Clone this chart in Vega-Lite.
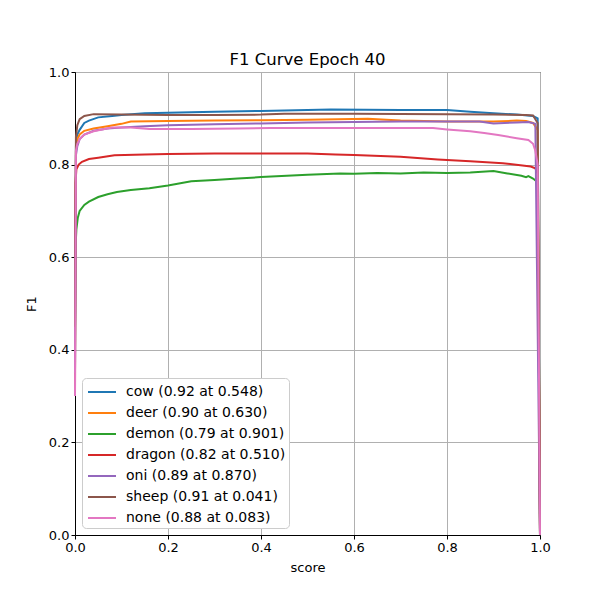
{
  "$schema": "https://vega.github.io/schema/vega-lite/v6.json",
  "width": 465,
  "height": 463,
  "autosize": {"type": "none"},
  "padding": {"left": 75, "top": 72, "right": 60, "bottom": 65},
  "title": {"text": "F1 Curve Epoch 40", "font": "DejaVu Sans", "fontSize": 16.5, "fontWeight": "normal", "color": "#000000", "offset": -2},
  "config": {
    "font": "DejaVu Sans",
    "view": {"stroke": "#000000", "strokeWidth": 1},
    "axis": {"labelFont": "DejaVu Sans", "labelFontSize": 13, "labelColor": "#000000", "titleFont": "DejaVu Sans", "titleFontSize": 13, "titleFontWeight": "normal", "titleColor": "#000000", "domainColor": "#000000", "tickColor": "#000000", "tickSize": 4, "gridColor": "#b0b0b0", "gridWidth": 1, "gridOpacity": 1}
  },
  "data": {"values": [
    {"s":"cow (0.92 at 0.548)","x":0,"y":0.45},{"s":"cow (0.92 at 0.548)","x":0.002,"y":0.84},{"s":"cow (0.92 at 0.548)","x":0.005,"y":0.865},{"s":"cow (0.92 at 0.548)","x":0.01,"y":0.875},{"s":"cow (0.92 at 0.548)","x":0.02,"y":0.89},{"s":"cow (0.92 at 0.548)","x":0.03,"y":0.895},{"s":"cow (0.92 at 0.548)","x":0.05,"y":0.902},{"s":"cow (0.92 at 0.548)","x":0.08,"y":0.905},{"s":"cow (0.92 at 0.548)","x":0.1,"y":0.907},{"s":"cow (0.92 at 0.548)","x":0.15,"y":0.911},{"s":"cow (0.92 at 0.548)","x":0.2,"y":0.912},{"s":"cow (0.92 at 0.548)","x":0.3,"y":0.914},{"s":"cow (0.92 at 0.548)","x":0.4,"y":0.916},{"s":"cow (0.92 at 0.548)","x":0.5,"y":0.918},{"s":"cow (0.92 at 0.548)","x":0.55,"y":0.919},{"s":"cow (0.92 at 0.548)","x":0.7,"y":0.918},{"s":"cow (0.92 at 0.548)","x":0.8,"y":0.918},{"s":"cow (0.92 at 0.548)","x":0.85,"y":0.914},{"s":"cow (0.92 at 0.548)","x":0.9,"y":0.911},{"s":"cow (0.92 at 0.548)","x":0.95,"y":0.908},{"s":"cow (0.92 at 0.548)","x":0.985,"y":0.905},{"s":"cow (0.92 at 0.548)","x":0.995,"y":0.9},{"s":"cow (0.92 at 0.548)","x":1.0,"y":0},
    {"s":"deer (0.90 at 0.630)","x":0,"y":0.4},{"s":"deer (0.90 at 0.630)","x":0.002,"y":0.83},{"s":"deer (0.90 at 0.630)","x":0.005,"y":0.855},{"s":"deer (0.90 at 0.630)","x":0.01,"y":0.865},{"s":"deer (0.90 at 0.630)","x":0.02,"y":0.873},{"s":"deer (0.90 at 0.630)","x":0.04,"y":0.878},{"s":"deer (0.90 at 0.630)","x":0.07,"y":0.883},{"s":"deer (0.90 at 0.630)","x":0.1,"y":0.888},{"s":"deer (0.90 at 0.630)","x":0.12,"y":0.893},{"s":"deer (0.90 at 0.630)","x":0.2,"y":0.894},{"s":"deer (0.90 at 0.630)","x":0.3,"y":0.895},{"s":"deer (0.90 at 0.630)","x":0.4,"y":0.896},{"s":"deer (0.90 at 0.630)","x":0.5,"y":0.897},{"s":"deer (0.90 at 0.630)","x":0.63,"y":0.899},{"s":"deer (0.90 at 0.630)","x":0.7,"y":0.895},{"s":"deer (0.90 at 0.630)","x":0.8,"y":0.893},{"s":"deer (0.90 at 0.630)","x":0.9,"y":0.893},{"s":"deer (0.90 at 0.630)","x":0.95,"y":0.895},{"s":"deer (0.90 at 0.630)","x":0.97,"y":0.894},{"s":"deer (0.90 at 0.630)","x":0.985,"y":0.89},{"s":"deer (0.90 at 0.630)","x":0.995,"y":0.875},{"s":"deer (0.90 at 0.630)","x":1.0,"y":0},
    {"s":"demon (0.79 at 0.901)","x":0,"y":0.35},{"s":"demon (0.79 at 0.901)","x":0.001,"y":0.62},{"s":"demon (0.79 at 0.901)","x":0.003,"y":0.66},{"s":"demon (0.79 at 0.901)","x":0.006,"y":0.685},{"s":"demon (0.79 at 0.901)","x":0.01,"y":0.7},{"s":"demon (0.79 at 0.901)","x":0.02,"y":0.713},{"s":"demon (0.79 at 0.901)","x":0.03,"y":0.72},{"s":"demon (0.79 at 0.901)","x":0.05,"y":0.73},{"s":"demon (0.79 at 0.901)","x":0.07,"y":0.736},{"s":"demon (0.79 at 0.901)","x":0.09,"y":0.741},{"s":"demon (0.79 at 0.901)","x":0.12,"y":0.745},{"s":"demon (0.79 at 0.901)","x":0.16,"y":0.749},{"s":"demon (0.79 at 0.901)","x":0.2,"y":0.755},{"s":"demon (0.79 at 0.901)","x":0.25,"y":0.764},{"s":"demon (0.79 at 0.901)","x":0.3,"y":0.767},{"s":"demon (0.79 at 0.901)","x":0.35,"y":0.77},{"s":"demon (0.79 at 0.901)","x":0.4,"y":0.773},{"s":"demon (0.79 at 0.901)","x":0.5,"y":0.778},{"s":"demon (0.79 at 0.901)","x":0.57,"y":0.781},{"s":"demon (0.79 at 0.901)","x":0.6,"y":0.78},{"s":"demon (0.79 at 0.901)","x":0.65,"y":0.782},{"s":"demon (0.79 at 0.901)","x":0.7,"y":0.781},{"s":"demon (0.79 at 0.901)","x":0.75,"y":0.783},{"s":"demon (0.79 at 0.901)","x":0.8,"y":0.782},{"s":"demon (0.79 at 0.901)","x":0.85,"y":0.783},{"s":"demon (0.79 at 0.901)","x":0.9,"y":0.786},{"s":"demon (0.79 at 0.901)","x":0.93,"y":0.781},{"s":"demon (0.79 at 0.901)","x":0.96,"y":0.776},{"s":"demon (0.79 at 0.901)","x":0.97,"y":0.773},{"s":"demon (0.79 at 0.901)","x":0.975,"y":0.775},{"s":"demon (0.79 at 0.901)","x":0.985,"y":0.77},{"s":"demon (0.79 at 0.901)","x":0.995,"y":0.762},{"s":"demon (0.79 at 0.901)","x":1.0,"y":0},
    {"s":"dragon (0.82 at 0.510)","x":0,"y":0.3},{"s":"dragon (0.82 at 0.510)","x":0.001,"y":0.76},{"s":"dragon (0.82 at 0.510)","x":0.003,"y":0.79},{"s":"dragon (0.82 at 0.510)","x":0.008,"y":0.8},{"s":"dragon (0.82 at 0.510)","x":0.015,"y":0.806},{"s":"dragon (0.82 at 0.510)","x":0.03,"y":0.812},{"s":"dragon (0.82 at 0.510)","x":0.05,"y":0.815},{"s":"dragon (0.82 at 0.510)","x":0.085,"y":0.82},{"s":"dragon (0.82 at 0.510)","x":0.15,"y":0.822},{"s":"dragon (0.82 at 0.510)","x":0.2,"y":0.823},{"s":"dragon (0.82 at 0.510)","x":0.3,"y":0.824},{"s":"dragon (0.82 at 0.510)","x":0.4,"y":0.824},{"s":"dragon (0.82 at 0.510)","x":0.5,"y":0.824},{"s":"dragon (0.82 at 0.510)","x":0.56,"y":0.822},{"s":"dragon (0.82 at 0.510)","x":0.6,"y":0.821},{"s":"dragon (0.82 at 0.510)","x":0.7,"y":0.817},{"s":"dragon (0.82 at 0.510)","x":0.78,"y":0.811},{"s":"dragon (0.82 at 0.510)","x":0.85,"y":0.807},{"s":"dragon (0.82 at 0.510)","x":0.92,"y":0.803},{"s":"dragon (0.82 at 0.510)","x":0.98,"y":0.796},{"s":"dragon (0.82 at 0.510)","x":0.99,"y":0.792},{"s":"dragon (0.82 at 0.510)","x":0.995,"y":0.78},{"s":"dragon (0.82 at 0.510)","x":1.0,"y":0},
    {"s":"oni (0.89 at 0.870)","x":0,"y":0.35},{"s":"oni (0.89 at 0.870)","x":0.002,"y":0.82},{"s":"oni (0.89 at 0.870)","x":0.005,"y":0.84},{"s":"oni (0.89 at 0.870)","x":0.01,"y":0.855},{"s":"oni (0.89 at 0.870)","x":0.02,"y":0.865},{"s":"oni (0.89 at 0.870)","x":0.04,"y":0.873},{"s":"oni (0.89 at 0.870)","x":0.07,"y":0.878},{"s":"oni (0.89 at 0.870)","x":0.1,"y":0.88},{"s":"oni (0.89 at 0.870)","x":0.15,"y":0.883},{"s":"oni (0.89 at 0.870)","x":0.2,"y":0.885},{"s":"oni (0.89 at 0.870)","x":0.3,"y":0.887},{"s":"oni (0.89 at 0.870)","x":0.4,"y":0.889},{"s":"oni (0.89 at 0.870)","x":0.5,"y":0.891},{"s":"oni (0.89 at 0.870)","x":0.6,"y":0.892},{"s":"oni (0.89 at 0.870)","x":0.7,"y":0.893},{"s":"oni (0.89 at 0.870)","x":0.8,"y":0.893},{"s":"oni (0.89 at 0.870)","x":0.87,"y":0.893},{"s":"oni (0.89 at 0.870)","x":0.9,"y":0.889},{"s":"oni (0.89 at 0.870)","x":0.95,"y":0.891},{"s":"oni (0.89 at 0.870)","x":0.975,"y":0.892},{"s":"oni (0.89 at 0.870)","x":0.99,"y":0.888},{"s":"oni (0.89 at 0.870)","x":1.0,"y":0},
    {"s":"sheep (0.91 at 0.041)","x":0,"y":0.45},{"s":"sheep (0.91 at 0.041)","x":0.002,"y":0.86},{"s":"sheep (0.91 at 0.041)","x":0.005,"y":0.885},{"s":"sheep (0.91 at 0.041)","x":0.01,"y":0.898},{"s":"sheep (0.91 at 0.041)","x":0.02,"y":0.905},{"s":"sheep (0.91 at 0.041)","x":0.04,"y":0.909},{"s":"sheep (0.91 at 0.041)","x":0.1,"y":0.908},{"s":"sheep (0.91 at 0.041)","x":0.2,"y":0.907},{"s":"sheep (0.91 at 0.041)","x":0.3,"y":0.907},{"s":"sheep (0.91 at 0.041)","x":0.4,"y":0.908},{"s":"sheep (0.91 at 0.041)","x":0.45,"y":0.91},{"s":"sheep (0.91 at 0.041)","x":0.6,"y":0.91},{"s":"sheep (0.91 at 0.041)","x":0.8,"y":0.909},{"s":"sheep (0.91 at 0.041)","x":0.9,"y":0.908},{"s":"sheep (0.91 at 0.041)","x":0.97,"y":0.907},{"s":"sheep (0.91 at 0.041)","x":0.985,"y":0.906},{"s":"sheep (0.91 at 0.041)","x":0.995,"y":0.89},{"s":"sheep (0.91 at 0.041)","x":1.0,"y":0},
    {"s":"none (0.88 at 0.083)","x":0,"y":0.3},{"s":"none (0.88 at 0.083)","x":0.002,"y":0.83},{"s":"none (0.88 at 0.083)","x":0.005,"y":0.845},{"s":"none (0.88 at 0.083)","x":0.01,"y":0.855},{"s":"none (0.88 at 0.083)","x":0.02,"y":0.865},{"s":"none (0.88 at 0.083)","x":0.04,"y":0.872},{"s":"none (0.88 at 0.083)","x":0.08,"y":0.88},{"s":"none (0.88 at 0.083)","x":0.12,"y":0.88},{"s":"none (0.88 at 0.083)","x":0.16,"y":0.877},{"s":"none (0.88 at 0.083)","x":0.25,"y":0.877},{"s":"none (0.88 at 0.083)","x":0.35,"y":0.878},{"s":"none (0.88 at 0.083)","x":0.42,"y":0.879},{"s":"none (0.88 at 0.083)","x":0.6,"y":0.879},{"s":"none (0.88 at 0.083)","x":0.77,"y":0.879},{"s":"none (0.88 at 0.083)","x":0.8,"y":0.876},{"s":"none (0.88 at 0.083)","x":0.85,"y":0.872},{"s":"none (0.88 at 0.083)","x":0.88,"y":0.868},{"s":"none (0.88 at 0.083)","x":0.91,"y":0.864},{"s":"none (0.88 at 0.083)","x":0.95,"y":0.857},{"s":"none (0.88 at 0.083)","x":0.975,"y":0.853},{"s":"none (0.88 at 0.083)","x":0.985,"y":0.845},{"s":"none (0.88 at 0.083)","x":0.99,"y":0.83},{"s":"none (0.88 at 0.083)","x":0.995,"y":0.8},{"s":"none (0.88 at 0.083)","x":1.0,"y":0}
  ]},
  "mark": {"type": "line", "strokeWidth": 2, "interpolate": "linear"},
  "encoding": {
    "x": {"field": "x", "type": "quantitative", "scale": {"domain": [0, 1], "nice": false, "zero": false}, "axis": {"title": "score", "values": [0, 0.2, 0.4, 0.6, 0.8, 1.0], "format": ".1f", "labelFlush": false, "titlePadding": 7}},
    "y": {"field": "y", "type": "quantitative", "scale": {"domain": [0, 1], "nice": false}, "axis": {"title": "F1", "values": [0, 0.2, 0.4, 0.6, 0.8, 1.0], "format": ".1f", "labelFlush": false, "titlePadding": 10}},
    "color": {
      "field": "s", "type": "nominal",
      "scale": {"domain": ["cow (0.92 at 0.548)", "deer (0.90 at 0.630)", "demon (0.79 at 0.901)", "dragon (0.82 at 0.510)", "oni (0.89 at 0.870)", "sheep (0.91 at 0.041)", "none (0.88 at 0.083)"],
                "range": ["#1f77b4", "#ff7f0e", "#2ca02c", "#d62728", "#9467bd", "#8c564b", "#e377c2"]},
      "legend": {"title": null, "orient": "bottom-left", "offset": 7, "padding": 3, "strokeColor": "#cccccc", "fillColor": "#ffffff", "cornerRadius": 4, "symbolType": "M-0.8,0H2", "symbolSize": 400, "symbolStrokeWidth": 2, "symbolFillColor": "transparent", "labelFont": "DejaVu Sans", "labelFontSize": 14, "labelColor": "#000000", "rowPadding": 3, "labelOffset": 19, "labelLimit": 300}
    },
    "order": {"field": "x", "type": "quantitative"}
  }
}
